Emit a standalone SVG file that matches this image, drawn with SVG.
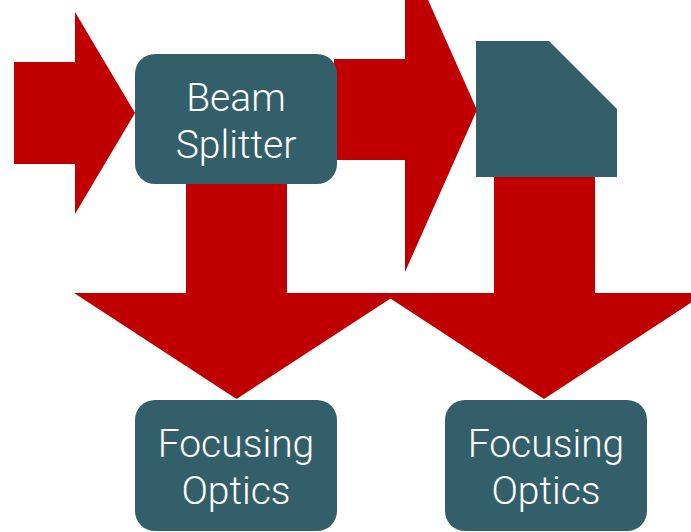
<svg xmlns="http://www.w3.org/2000/svg" width="691" height="532" viewBox="0 0 691 532">
<style>
.arrow{fill:#C00000}
.node{fill:#335F6B}
.lbl{font-family:Roboto,"Liberation Sans",Arial,sans-serif;font-weight:300;font-size:39px;fill:#FFFFFF;text-anchor:middle}
</style>
<rect width="691" height="532" fill="#FFFFFF"/>
<g id="connectors">
<polygon class="arrow" points="14,62 75,62 75,12 135,113 75,214 75,164 14,164"/>
<polygon class="arrow" points="334,59 405,59 405,-52 477,110 405,272 405,160 334,160"/>
<polygon class="arrow" points="186,179 287,179 287,293 399,293 236.5,399 74,293 186,293"/>
<polygon class="arrow" points="494,177 595,177 595,293 706,293 544,399 382,293 494,293"/>
</g>
<g id="beam-splitter">
<rect class="node" x="135" y="54" width="202" height="130" rx="20" ry="20"/>
<text class="lbl" x="236" y="111">Beam</text>
<text class="lbl" x="236" y="158">Splitter</text>
</g>
<g id="cut-corner-node">
<polygon class="node" points="476,41 549,41 617,109 617,177 476,177"/>
</g>
<g id="focusing-optics-1">
<rect class="node" x="135" y="400" width="202" height="131" rx="20" ry="20"/>
<text class="lbl" x="236" y="457">Focusing</text>
<text class="lbl" x="236" y="504">Optics</text>
</g>
<g id="focusing-optics-2">
<rect class="node" x="445" y="400" width="202" height="131" rx="20" ry="20"/>
<text class="lbl" x="546" y="457">Focusing</text>
<text class="lbl" x="546" y="504">Optics</text>
</g>
</svg>
